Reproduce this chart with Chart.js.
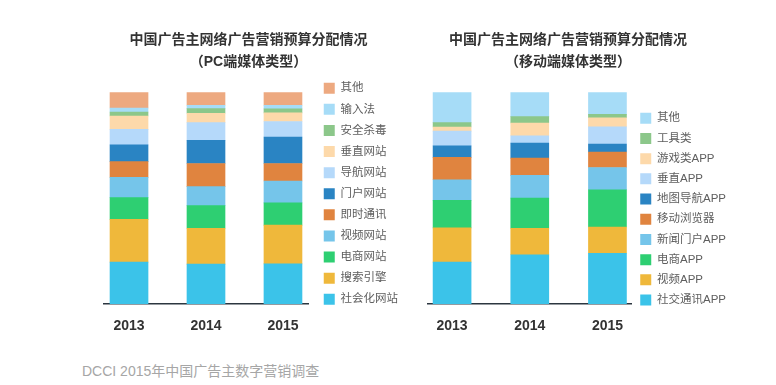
<!DOCTYPE html>
<html>
<head>
<meta charset="utf-8">
<script src="https://cdn.jsdelivr.net/npm/chart.js@4.4.1/dist/chart.umd.min.js"></script>
<style>
  html, body { margin: 0; padding: 0; background: #fff; }
  body { width: 776px; height: 385px; position: relative; overflow: hidden; }
  .box { position: absolute; top: 0; height: 351px; }
  #pcBox { left: 89px; width: 319px; }
  #mbBox { left: 400px; width: 336px; }
  #note { position: absolute; left: 82px; top: 360px; font: 14px "Liberation Sans", "Noto Sans CJK SC", sans-serif; color: #a6a6a6; white-space: nowrap; }
</style>
</head>
<body>
<div id="pcBox" class="box"><canvas id="pc"></canvas></div>
<div id="mbBox" class="box"><canvas id="mb"></canvas></div>
<div id="note">DCCI 2015年中国广告主数字营销调查</div>
<script>
const years = ['2013', '2014', '2015'];

const pcTitle = ['中国广告主网络广告营销预算分配情况', '（PC端媒体类型）'];
const pcCategories = ['社会化网站', '搜索引擎', '电商网站', '视频网站', '即时通讯', '门户网站', '导航网站', '垂直网站', '安全杀毒', '输入法', '其他'];
const pc2013 = [19.8, 20.2, 10.3, 9.5, 7.5, 7.9, 7.3, 6.3, 1.9, 1.9, 7.4];
const pc2014 = [18.9, 16.9, 10.7, 9.0, 10.9, 10.9, 8.4, 4.4, 2.2, 1.6, 6.1];
const pc2015 = [19.0, 18.3, 10.5, 10.3, 8.3, 12.5, 7.3, 4.1, 1.9, 1.7, 6.1];
const pcColors = ['#3bc3e9', '#efb83b', '#2ecf72', '#75c5ea', '#e0843f', '#2a84c3', '#b5d9fa', '#fdd9aa', '#8cc78a', '#a6dcf7', '#eda980'];

const mbTitle = ['中国广告主网络广告营销预算分配情况', '（移动端媒体类型）'];
const mbCategories = ['社交通讯APP', '视频APP', '电商APP', '新闻门户APP', '移动浏览器', '地图导航APP', '垂直APP', '游戏类APP', '工具类', '其他'];
const mb2013 = [19.8, 16.2, 13.0, 9.7, 10.6, 5.4, 7.0, 1.9, 2.1, 14.3];
const mb2014 = [23.3, 12.5, 14.2, 10.8, 8.1, 7.1, 3.5, 6.0, 3.0, 11.5];
const mb2015 = [24.0, 12.4, 17.6, 10.5, 7.3, 3.8, 8.1, 4.3, 1.6, 10.4];
const mbColors = ['#3bc3e9', '#efb83b', '#2ecf72', '#75c5ea', '#e0843f', '#2a84c3', '#b5d9fa', '#fdd9aa', '#8cc78a', '#a6dcf7'];

const FAMILY = '"Liberation Sans", "Noto Sans CJK SC", sans-serif';

function buildDatasets(categories, yearSeries, colors) {
  return categories.map((name, i) => ({
    label: name,
    data: yearSeries.map((s, yi) => ({ x: yi, y: s[i] })),
    backgroundColor: colors[i],
    borderWidth: 0,
    barThickness: 38
  }));
}

function spacerAxis(position, width) {
  return {
    type: 'linear',
    position: position,
    display: true,
    min: 0,
    max: 1,
    grid: { display: false, drawTicks: false },
    border: { display: false },
    ticks: { display: false },
    afterFit: (scale) => { scale.width = width; }
  };
}

function makeChart(id, cfg) {
  const scales = {
    x: {
      type: 'linear',
      stacked: true,
      offset: false,
      min: cfg.xMin,
      max: cfg.xMax,
      grid: { display: false, drawTicks: false },
      border: { display: true, color: '#2c3640', width: 1.5 },
      ticks: {
        stepSize: 1,
        includeBounds: false,
        autoSkip: false,
        maxRotation: 0,
        padding: 13.2,
        color: '#333333',
        font: { family: FAMILY, size: 14, weight: 'bold' },
        callback: (v) => (Number.isInteger(v) && years[v] !== undefined) ? years[v] : ''
      }
    },
    y: {
      stacked: true,
      min: 0,
      max: 100,
      position: 'right',
      display: cfg.rightGap > 0,
      grid: { display: false, drawTicks: false },
      border: { display: false },
      ticks: { display: false },
      afterFit: (scale) => { scale.width = cfg.rightGap; }
    },
    padL: spacerAxis('left', cfg.leftGap)
  };
  return new Chart(document.getElementById(id), {
    type: 'bar',
    data: { datasets: buildDatasets(cfg.categories, cfg.series, cfg.colors) },
    options: {
      responsive: true,
      maintainAspectRatio: false,
      animation: false,
      layout: { padding: { left: 0, right: 0, top: 0, bottom: 3.7 } },
      plugins: {
        tooltip: { enabled: false },
        title: {
          display: true,
          text: cfg.title,
          color: '#333333',
          font: { family: FAMILY, size: 14, weight: 'bold', lineHeight: 22 / 14 },
          padding: { top: 29, bottom: 19.3 }
        },
        legend: {
          position: 'right',
          align: 'start',
          maxWidth: 200,
          reverse: true,
          title: { display: true, text: '', font: { size: 1, lineHeight: 1 }, padding: { top: cfg.legendTop, bottom: 0 } },
          labels: {
            boxWidth: 11,
            boxHeight: 11,
            padding: cfg.legendPad,
            color: '#5e5e5e',
            font: { family: FAMILY, size: 11.5 }
          }
        }
      },
      scales: scales
    }
  });
}

makeChart('pc', {
  categories: pcCategories,
  series: [pc2013, pc2014, pc2015],
  colors: pcColors,
  title: pcTitle,
  leftGap: 15,
  rightGap: 6.15,
  xMin: -0.325,
  xMax: 2.325,
  legendPad: 9.6,
  legendTop: 71.9
});

makeChart('mb', {
  categories: mbCategories,
  series: [mb2013, mb2014, mb2015],
  colors: mbColors,
  title: mbTitle,
  leftGap: 28,
  rightGap: 0,
  xMin: -0.31,
  xMax: 2.31,
  legendPad: 8.7,
  legendTop: 102.8
});
</script>
</body>
</html>
